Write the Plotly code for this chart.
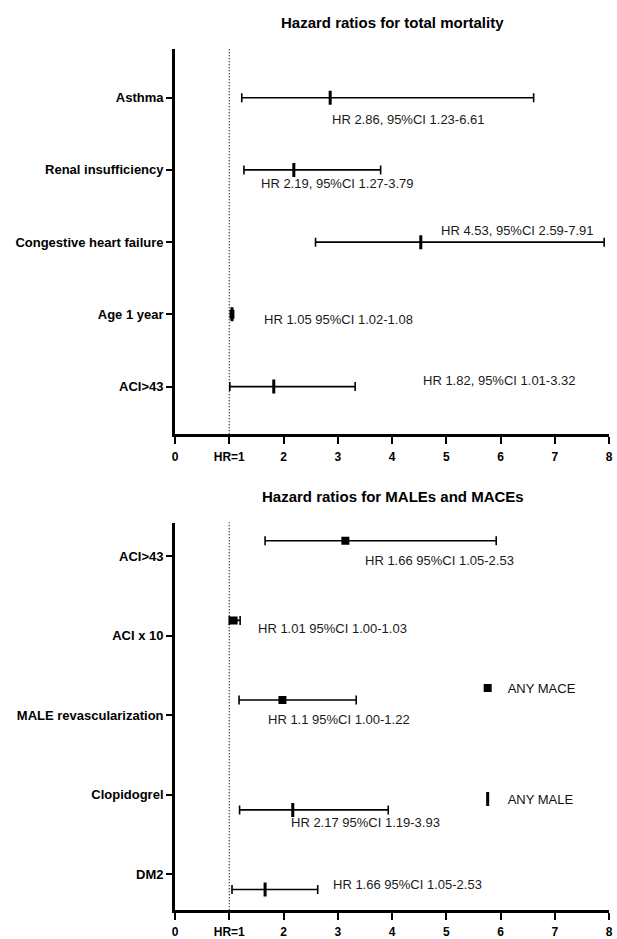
import plotly.graph_objects as go

# ---------------- data ----------------
top_categories = ["Asthma", "Renal insufficiency", "Congestive heart failure", "Age 1 year", "ACI>43"]
top_hr = [2.86, 2.19, 4.53, 1.05, 1.82]
top_lo = [1.23, 1.27, 2.59, 1.02, 1.01]
top_hi = [6.61, 3.79, 7.91, 1.08, 3.32]
top_text = ["HR 2.86, 95%CI 1.23-6.61", "HR 2.19, 95%CI 1.27-3.79", "HR 4.53, 95%CI 2.59-7.91",
            "HR 1.05 95%CI 1.02-1.08", "HR 1.82, 95%CI 1.01-3.32"]

bottom_categories = ["ACI>43", "ACI x 10", "MALE revascularization", "Clopidogrel", "DM2"]
mace_categories = ["ACI>43", "ACI x 10", "MALE revascularization"]
mace_hr = [3.14, 1.08, 1.98]
mace_lo = [1.66, 1.00, 1.18]
mace_hi = [5.92, 1.20, 3.34]
male_categories = ["Clopidogrel", "DM2"]
male_hr = [2.17, 1.66]
male_lo = [1.19, 1.05]
male_hi = [3.93, 2.63]
bottom_text = ["HR 1.66 95%CI 1.05-2.53", "HR 1.01 95%CI 1.00-1.03", "HR 1.1 95%CI 1.00-1.22",
               "HR 2.17 95%CI 1.19-3.93", "HR 1.66 95%CI 1.05-2.53"]

x_tickvals = [0, 1, 2, 3, 4, 5, 6, 7, 8]
x_ticktext = ["0", "HR=1", "2", "3", "4", "5", "6", "7", "8"]
HR_REF = 1

# ---------------- layout (positions only) ----------------
W, H = 617, 939

def px_x(p):
    return p / W

def px_y(p):
    return (H - p) / H

top_label_pos = [(2.85, -0.30), (1.54, -0.19), (4.86, 0.16), (1.61, -0.07), (4.53, 0.08)]
bottom_label_pos = [(3.46, -0.06), (1.50, 0.09), (1.68, -0.06), (2.10, -0.35), (2.87, -0.125)]
MACE_OFF, MALE_OFF = 0.19, -0.19

def ypos(cats, c):
    return len(cats) - 1 - cats.index(c)

FONT = "Liberation Sans, Arial, sans-serif"
BLACK = "#000000"

fig = go.Figure()

# top panel
fig.add_trace(go.Scatter(
    x=top_hr, y=[ypos(top_categories, c) for c in top_categories],
    mode="markers",
    marker=dict(symbol="line-ns", size=10, color=BLACK, line=dict(color=BLACK, width=3)),
    error_x=dict(type="data", symmetric=False,
                 array=[h - m for h, m in zip(top_hi, top_hr)],
                 arrayminus=[m - l for m, l in zip(top_hr, top_lo)],
                 color=BLACK, thickness=1.6, width=4.5),
    xaxis="x", yaxis="y", showlegend=False, hoverinfo="skip"))

# bottom panel - ANY MACE
fig.add_trace(go.Scatter(
    x=mace_hr, y=[ypos(bottom_categories, c) + MACE_OFF for c in mace_categories],
    mode="markers", name="ANY MACE",
    marker=dict(symbol="square", size=8, color=BLACK),
    error_x=dict(type="data", symmetric=False,
                 array=[h - m for h, m in zip(mace_hi, mace_hr)],
                 arrayminus=[m - l for m, l in zip(mace_hr, mace_lo)],
                 color=BLACK, thickness=1.6, width=4.5),
    xaxis="x2", yaxis="y2", legend="legend", hoverinfo="skip"))

# bottom panel - ANY MALE
fig.add_trace(go.Scatter(
    x=male_hr, y=[ypos(bottom_categories, c) + MALE_OFF for c in male_categories],
    mode="markers", name="ANY MALE",
    marker=dict(symbol="line-ns", size=10, color=BLACK, line=dict(color=BLACK, width=3)),
    error_x=dict(type="data", symmetric=False,
                 array=[h - m for h, m in zip(male_hi, male_hr)],
                 arrayminus=[m - l for m, l in zip(male_hr, male_lo)],
                 color=BLACK, thickness=1.6, width=4.5),
    xaxis="x2", yaxis="y2", legend="legend2", hoverinfo="skip"))

x0, x1 = px_x(174), px_x(613)
xtick_font = dict(family=FONT, size=12, color=BLACK, weight="bold")
ytick_font = dict(family=FONT, size=13, color=BLACK, weight="bold")

xaxis_common = dict(range=[0, 8], tickvals=x_tickvals, ticktext=x_ticktext,
                    showline=True, linecolor=BLACK, linewidth=2.8, ticks="outside",
                    ticklen=7, tickwidth=2, tickcolor=BLACK, showgrid=False,
                    zeroline=False, tickfont=xtick_font, domain=[x0, x1], fixedrange=True,
                    ticklabelstandoff=2)
yaxis_common = dict(showline=True, linecolor=BLACK, linewidth=2.8, ticks="outside",
                    ticklen=6, tickwidth=2, tickcolor=BLACK, showgrid=False,
                    zeroline=False, tickfont=ytick_font, fixedrange=True)

fig.update_layout(
    width=W, height=H, margin=dict(l=0, r=0, t=0, b=0),
    paper_bgcolor="white", plot_bgcolor="white",
    font=dict(family=FONT, color=BLACK),
    hovermode=False,
    xaxis=dict(**xaxis_common, anchor="y"),
    yaxis=dict(**yaxis_common, anchor="x",
               domain=[px_y(438), px_y(49)], range=[-0.66, 4.68],
               tickvals=[ypos(top_categories, c) for c in top_categories],
               ticktext=top_categories),
    xaxis2=dict(**xaxis_common, anchor="y2"),
    yaxis2=dict(**yaxis_common, anchor="x2",
                domain=[px_y(918), px_y(527)], range=[-0.45, 4.42],
                tickvals=[ypos(bottom_categories, c) for c in bottom_categories],
                ticktext=bottom_categories),
    legend=dict(x=470 / W, y=px_y(694), xanchor="left", yanchor="middle",
                bgcolor="rgba(0,0,0,0)", font=dict(family=FONT, size=13, color="#111")),
    legend2=dict(x=470 / W, y=px_y(806), xanchor="left", yanchor="middle",
                 bgcolor="rgba(0,0,0,0)", font=dict(family=FONT, size=13, color="#111")),
)

# reference line HR = 1
for xr, yr in (("x", "y domain"), ("x2", "y2 domain")):
    fig.add_shape(type="line", xref=xr, yref=yr, x0=HR_REF, x1=HR_REF, y0=0, y1=1,
                  line=dict(color=BLACK, width=1.2, dash="1px,2px"))

ann_font = dict(family=FONT, size=13, color="#1a1a1a")
for c, t, (lx, dy) in zip(top_categories, top_text, top_label_pos):
    fig.add_annotation(x=lx, y=ypos(top_categories, c) + dy, xref="x", yref="y",
                       text=t, showarrow=False, xanchor="left", yanchor="middle", font=ann_font)
for c, t, (lx, dy) in zip(bottom_categories, bottom_text, bottom_label_pos):
    fig.add_annotation(x=lx, y=ypos(bottom_categories, c) + dy, xref="x2", yref="y2",
                       text=t, showarrow=False, xanchor="left", yanchor="middle", font=ann_font)

title_font = dict(family=FONT, size=15, color=BLACK, weight="bold")
fig.add_annotation(x=px_x(394), y=px_y(23), xref="paper", yref="paper",
                   text="Hazard ratios for total mortality", showarrow=False,
                   xanchor="center", yanchor="middle", font=title_font)
fig.add_annotation(x=px_x(394), y=px_y(501), xref="paper", yref="paper",
                   text="Hazard ratios for MALEs and MACEs", showarrow=False,
                   xanchor="center", yanchor="middle", font=title_font)

# remove the default 8px page margin so the figure fills the window exactly
fig.write_html("out.html", config={"displayModeBar": False},
               post_script="document.body.style.margin='0';document.body.style.overflow='hidden';")
